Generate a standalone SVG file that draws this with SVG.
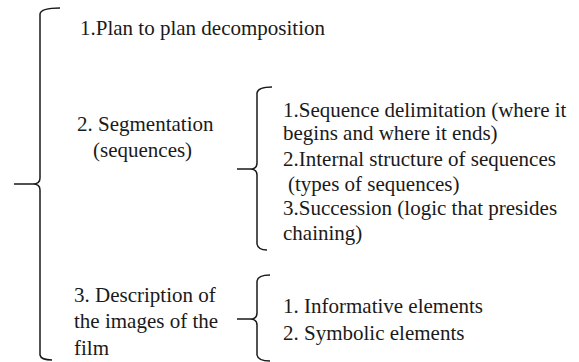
<svg xmlns="http://www.w3.org/2000/svg" width="579" height="362" viewBox="0 0 579 362">
<g id="connectors" fill="none" stroke="#1a1a1a" stroke-width="1.5">
<path d="M60,8 Q41,8 40,14 L40,178 Q40,184 33,184 L14,184 M33,184 Q40,184 40,190 L40,355 Q41,360 52,360"/>
<path d="M272,87 Q258,87 257,93 L257,163 Q257,169 250,169 L237,169 M250,169 Q257,169 257,175 L257,244 Q258,250 267,250"/>
<path d="M270,275 Q258,275 257,281 L257,313 Q257,319 250,319 L237,319 M250,319 Q257,319 257,325 L257,355 Q258,361 270,361"/>
</g>
<g id="plan">
<text x="80" y="35" font-family="Liberation Serif" font-size="21" fill="#1a1a1a">1.Plan to plan decomposition</text>
</g>
<g id="segmentation">
<text x="77" y="131" font-family="Liberation Serif" font-size="21" fill="#1a1a1a">2. Segmentation</text>
<text x="93" y="157" font-family="Liberation Serif" font-size="21" fill="#1a1a1a">(sequences)</text>
</g>
<g id="description">
<text x="74" y="302" font-family="Liberation Serif" font-size="21" fill="#1a1a1a">3. Description of</text>
<text x="74" y="328" font-family="Liberation Serif" font-size="21" fill="#1a1a1a">the images of the</text>
<text x="74" y="355" font-family="Liberation Serif" font-size="21" fill="#1a1a1a">film</text>
</g>
<g id="sequence-items">
<text x="283" y="117" font-family="Liberation Serif" font-size="21" fill="#1a1a1a">1.Sequence delimitation (where it</text>
<text x="283" y="140" font-family="Liberation Serif" font-size="21" fill="#1a1a1a">begins and where it ends)</text>
<text x="283" y="166" font-family="Liberation Serif" font-size="21" fill="#1a1a1a">2.Internal structure of sequences</text>
<text x="288" y="191" font-family="Liberation Serif" font-size="21" fill="#1a1a1a">(types of sequences)</text>
<text x="283" y="215" font-family="Liberation Serif" font-size="21" fill="#1a1a1a">3.Succession (logic that presides</text>
<text x="283" y="240" font-family="Liberation Serif" font-size="21" fill="#1a1a1a">chaining)</text>
</g>
<g id="image-items">
<text x="283" y="313" font-family="Liberation Serif" font-size="21" fill="#1a1a1a">1. Informative elements</text>
<text x="283" y="340" font-family="Liberation Serif" font-size="21" fill="#1a1a1a">2. Symbolic elements</text>
</g>
</svg>
